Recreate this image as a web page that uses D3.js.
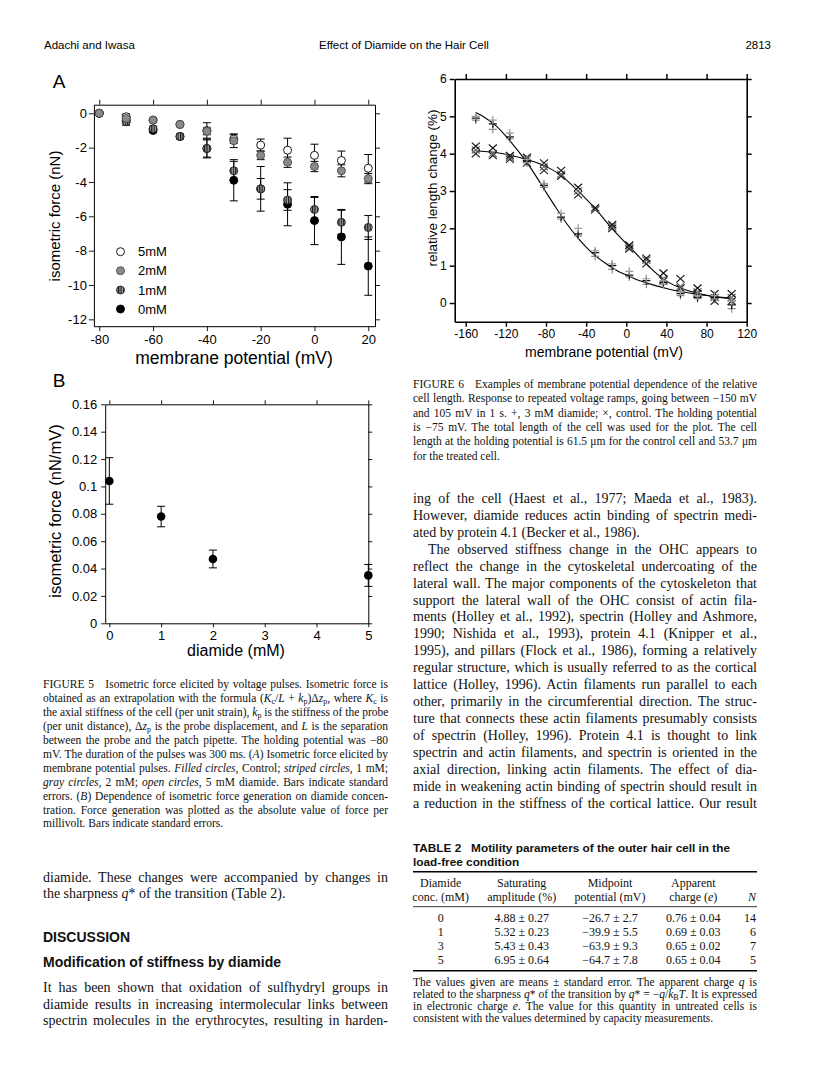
<!DOCTYPE html>
<html>
<head>
<meta charset="utf-8">
<script src="https://cdn.jsdelivr.net/npm/d3@7"></script>
<style>
  body { margin: 0; background: #fff; }
  #page { position: relative; width: 816px; height: 1090px; overflow: hidden; background: #fff; }
  svg { position: absolute; left: 0; top: 0; }
  .blk { position: absolute; font-family: "Liberation Serif", "Times New Roman", serif; color: #111; }
  .ln { text-align: justify; text-align-last: justify; white-space: nowrap; }
  .ln.last { text-align-last: left; }
  .sans { font-family: "Liberation Sans", Arial, sans-serif; }
  sub { font-size: 70%; vertical-align: -0.25em; line-height: 0; }
  .cell { position: absolute; font-family: "Liberation Serif", "Times New Roman", serif; color: #111; white-space: nowrap; }
</style>
</head>
<body>
<div id="page"></div>
<script>
/* ---------- data: Fig 5A, isometric force (nN) vs membrane potential (mV) ---------- */
const voltsA = [-80, -70, -60, -50, -40, -30, -20, -10, 0, 10, 20];
const force5mM = [0, -0.2, -0.4, -0.65, -1.0, -1.5, -1.85, -2.15, -2.45, -2.75, -3.2];
const err5mM   = [0, 0.15, 0.1, 0.1, 0.45, 0.25, 0.35, 0.7, 0.65, 0.55, 0.8];
const force2mM = [0, -0.3, -0.4, -0.65, -1.05, -1.6, -2.45, -2.85, -3.1, -3.35, -3.8];
const err2mM   = [0, 0.1, 0.1, 0.1, 0.2, 0.4, 0.25, 0.3, 0.3, 0.35, 0.3];
const force1mM = [0, -0.5, -0.9, -1.35, -2.05, -3.35, -4.4, -5.05, -5.6, -6.35, -6.65];
const err1mM   = [0, 0.2, 0.15, 0.15, 0.55, 0.55, 0.6, 0.6, 0.7, 0.7, 0.7];
const force0mM = [0, -0.4, -1.0, -1.35, -2.05, -3.9, -4.4, -5.3, -6.25, -7.2, -8.9];
const err0mM   = [0, 0.15, 0.1, 0.1, 0.5, 1.2, 1.3, 1.25, 1.4, 1.6, 1.7];
const legendA  = ["5mM", "2mM", "1mM", "0mM"];
const xTicksA = [-80, -60, -40, -20, 0, 20];
const yTicksA = [0, -2, -4, -6, -8, -10, -12];

/* ---------- data: Fig 5B, force per mV vs diamide ---------- */
const diamideB = [0, 1, 2, 5];
const slopeB   = [0.104, 0.078, 0.047, 0.035];
const slopeErrB = [0.017, 0.0075, 0.0065, 0.008];
const xTicksB = [0, 1, 2, 3, 4, 5];
const yTicksB = [0, 0.02, 0.04, 0.06, 0.08, 0.1, 0.12, 0.14, 0.16];

/* ---------- data: Fig 6, relative length change (%) ---------- */
const rampV = [-150, -133, -116, -99, -82, -65, -48, -31, -14, 3, 20, 37, 54, 71, 88, 105];
const diamideRun1 = [4.9, 4.65, 4.4, 3.75, 3.1, 2.25, 1.8, 1.25, 0.9, 0.7, 0.5, 0.5, 0.2, 0.12, 0.1, -0.15];
const diamideRun2 = [4.95, 4.8, 4.45, 3.8, 3.15, 2.3, 1.85, 1.35, 1.0, 0.75, 0.6, 0.55, 0.25, 0.15, 0.15, -0.05];
const diamideRun3 = [5.0, 4.9, 4.55, 3.85, 3.2, 2.4, 2.0, 1.4, 1.05, 0.85, 0.65, 0.6, 0.3, 0.2, 0.2, 0.05];
const controlRun1 = [4.0, 3.95, 3.85, 3.75, 3.55, 3.4, 2.9, 2.5, 2.0, 1.45, 1.05, 0.6, 0.4, 0.25, 0.05, 0.05];
const controlRun2 = [4.1, 4.0, 3.9, 3.85, 3.65, 3.45, 3.0, 2.5, 2.05, 1.5, 1.15, 0.65, 0.45, 0.3, 0.15, 0.15];
const controlRun3 = [4.2, 4.15, 3.95, 3.9, 3.75, 3.55, 3.1, 2.55, 2.1, 1.55, 1.2, 0.8, 0.65, 0.4, 0.25, 0.25];
const diamideFitV = [-150, -140, -130, -120, -110, -100, -90, -80, -70, -60, -50, -40, -30, -20, -10, 0, 10, 20, 30, 40, 50, 60, 70, 80, 90, 105];
const diamideFitY = [5.1, 4.95, 4.75, 4.47, 4.15, 3.8, 3.4, 2.97, 2.55, 2.15, 1.8, 1.5, 1.25, 1.05, 0.88, 0.75, 0.63, 0.54, 0.46, 0.39, 0.33, 0.28, 0.24, 0.2, 0.17, 0.13];
const controlFitV = [-150, -130, -115, -100, -82, -65, -50, -30, -15, 3, 20, 37, 54, 71, 88, 105];
const controlFitY = [4.07, 4.03, 3.95, 3.85, 3.68, 3.42, 3.05, 2.5, 2.02, 1.51, 1.04, 0.64, 0.4, 0.26, 0.17, 0.12];
const xTicks6 = [-160, -120, -80, -40, 0, 40, 80, 120];
const yTicks6 = [0, 1, 2, 3, 4, 5, 6];

/* ---------- data: Table 2 ---------- */
const tableHead1 = ["Diamide", "Saturating", "Midpoint", "Apparent", ""];
const tableHead2 = ["conc. (mM)", "amplitude (%)", "potential (mV)", "charge (<i>e</i>)", "<i>N</i>"];
const concCol  = ["0", "1", "3", "5"];
const ampCol   = ["4.88 ± 0.27", "5.32 ± 0.23", "5.43 ± 0.43", "6.95 ± 0.64"];
const midCol   = ["−26.7 ± 2.7", "−39.9 ± 5.5", "−63.9 ± 9.3", "−64.7 ± 7.8"];
const chargeCol = ["0.76 ± 0.04", "0.69 ± 0.03", "0.65 ± 0.02", "0.65 ± 0.04"];
const nCol     = ["14", "6", "7", "5"];

/* ---------- page setup ---------- */
const page = d3.select("#page");
const svg = page.append("svg").attr("width", 816).attr("height", 1090);
const SANS = "'Liberation Sans', Arial, sans-serif";

const defs = svg.append("defs");
const pat = defs.append("pattern").attr("id", "stripes")
  .attr("patternUnits", "userSpaceOnUse").attr("width", 2.4).attr("height", 4);
pat.append("rect").attr("width", 2.4).attr("height", 4).attr("fill", "#a0a0a0");
pat.append("rect").attr("width", 1.2).attr("height", 4).attr("fill", "#1a1a1a");

/* boxed axes: labels on left/bottom, bare ticks on top/right */
function boxAxes(x, y, xt, yt, o) {
  const g = svg.append("g");
  const [L, R] = x.range(), [B, T] = y.range();
  const style = (a) => {
    a.attr("font-family", SANS).attr("font-size", o.fs).attr("fill", "#000");
    a.selectAll("path.domain").attr("stroke", "#000").attr("stroke-width", o.sw);
    a.selectAll(".tick line").attr("stroke", "#000").attr("stroke-width", o.sw * 0.9);
    a.selectAll(".tick text").attr("fill", "#000");
  };
  g.append("g").attr("transform", `translate(0,${B})`)
    .call(d3.axisBottom(x).tickValues(xt).tickSize(o.tk).tickSizeOuter(0).tickPadding(o.xpad).tickFormat(o.xf || String)).call(style);
  g.append("g").attr("transform", `translate(0,${T})`)
    .call(d3.axisTop(x).tickValues(xt).tickSize(o.tk).tickSizeOuter(0).tickFormat("")).call(style);
  g.append("g").attr("transform", `translate(${L},0)`)
    .call(d3.axisLeft(y).tickValues(yt).tickSize(o.tk).tickSizeOuter(0).tickPadding(o.ypad).tickFormat(o.yf || String)).call(style);
  g.append("g").attr("transform", `translate(${R},0)`)
    .call(d3.axisRight(y).tickValues(yt).tickSize(o.tk).tickSizeOuter(0).tickFormat("")).call(style);
  return g;
}

function errBars(g, xs, ys, es, x, y, cap, sw) {
  const d = xs.map((v, i) => ({ x: v, y: ys[i], e: es[i] })).filter((d) => d.e > 0);
  const eg = g.append("g").attr("stroke", "#000").attr("stroke-width", sw).attr("fill", "none");
  eg.selectAll("line.v").data(d).join("line").attr("class", "v")
    .attr("x1", (d) => x(d.x)).attr("x2", (d) => x(d.x))
    .attr("y1", (d) => y(d.y + d.e)).attr("y2", (d) => y(d.y - d.e));
  eg.selectAll("line.t").data(d).join("line").attr("class", "t")
    .attr("x1", (d) => x(d.x) - cap).attr("x2", (d) => x(d.x) + cap)
    .attr("y1", (d) => y(d.y + d.e)).attr("y2", (d) => y(d.y + d.e));
  eg.selectAll("line.b").data(d).join("line").attr("class", "b")
    .attr("x1", (d) => x(d.x) - cap).attr("x2", (d) => x(d.x) + cap)
    .attr("y1", (d) => y(d.y - d.e)).attr("y2", (d) => y(d.y - d.e));
}

function label(txt, x, y, fs, opts = {}) {
  const t = svg.append("text").attr("x", x).attr("y", y)
    .attr("font-family", SANS).attr("font-size", fs)
    .attr("text-anchor", opts.anchor || "middle").attr("fill", "#000")
    .attr("font-weight", opts.bold ? "bold" : null).text(txt);
  if (opts.rot) t.attr("transform", `rotate(-90,${x},${y})`);
  return t;
}

/* ---------- Fig 5A ---------- */
const xA = d3.scaleLinear().domain([-82, 22.5]).range([93.9, 375]);
const yA = d3.scaleLinear().domain([-12.4, 0.5]).range([326.2, 104.7]);
boxAxes(xA, yA, xTicksA, yTicksA, { fs: 13, sw: 1, tk: 5, xpad: 4, ypad: 2 });
label("A", 59, 88, 19);
label("isometric force (nN)", 60, 216, 15, { rot: true });
label("membrane potential (mV)", 234, 364, 17.5);

const seriesA = [
  { f: force0mM, e: err0mM, fill: "#000", stroke: "#000" },
  { f: force1mM, e: err1mM, fill: "url(#stripes)", stroke: "#222" },
  { f: force5mM, e: err5mM, fill: "#fff", stroke: "#000" },
  { f: force2mM, e: err2mM, fill: "#8a8a8a", stroke: "#4a4a4a" },
];
const gA = svg.append("g");
seriesA.forEach((s) => errBars(gA, voltsA, s.f, s.e, xA, yA, 4, 1));
seriesA.forEach((s) => {
  gA.append("g").selectAll("circle").data(voltsA).join("circle")
    .attr("cx", (d) => xA(d)).attr("cy", (d, i) => yA(s.f[i])).attr("r", 4)
    .attr("fill", s.fill).attr("stroke", s.stroke).attr("stroke-width", 0.9);
});
// legend
const legStyles = [
  { fill: "#fff", stroke: "#000" },
  { fill: "#8a8a8a", stroke: "#4a4a4a" },
  { fill: "url(#stripes)", stroke: "#222" },
  { fill: "#000", stroke: "#000" },
];
const legY = [251.7, 270.7, 290, 309];
const leg = svg.append("g").selectAll("g").data(legendA).join("g")
  .attr("transform", (d, i) => `translate(120.5,${legY[i]})`);
leg.append("circle").attr("r", 4).attr("fill", (d, i) => legStyles[i].fill)
  .attr("stroke", (d, i) => legStyles[i].stroke).attr("stroke-width", 0.9);
leg.append("text").attr("x", 17.5).attr("y", 4.6).attr("font-family", SANS)
  .attr("font-size", 13).attr("fill", "#000").text((d) => d);

/* ---------- Fig 5B ---------- */
const xB = d3.scaleLinear().domain([-0.08, 5]).range([105.2, 368.3]);
const yB = d3.scaleLinear().domain([0, 0.16]).range([623.3, 404.3]);
boxAxes(xB, yB, xTicksB, yTicksB, { fs: 13, sw: 1, tk: 4, xpad: 3, ypad: 4 });
label("B", 59, 387, 19);
label("isometric force (nN/mV)", 61, 511, 16.5, { rot: true });
label("diamide (mM)", 236, 656, 16);
const gB = svg.append("g");
errBars(gB, diamideB, slopeB, slopeErrB, xB, yB, 4, 1);
gB.selectAll("circle").data(diamideB).join("circle")
  .attr("cx", (d) => xB(d)).attr("cy", (d, i) => yB(slopeB[i])).attr("r", 4.3).attr("fill", "#000");

/* ---------- Fig 6 ---------- */
const x6 = d3.scaleLinear().domain([-171, 120]).range([454.7, 746.7]);
const y6 = d3.scaleLinear().domain([-0.5, 6]).range([321.7, 79]);
boxAxes(x6, y6, xTicks6, yTicks6, { fs: 12, sw: 1.6, tk: 5, xpad: 3, ypad: 3 });
label("relative  length  change (%)", 437, 188, 13.5, { rot: true });
label("membrane potential  (mV)", 604, 357, 14);

const line6 = d3.line().curve(d3.curveMonotoneX).x((d) => x6(d[0])).y((d) => y6(d[1]));
const g6 = svg.append("g");
g6.append("path").datum(diamideFitV.map((v, i) => [v, diamideFitY[i]]))
  .attr("d", line6).attr("fill", "none").attr("stroke", "#000").attr("stroke-width", 1.1);
g6.append("path").datum(controlFitV.map((v, i) => [v, controlFitY[i]]))
  .attr("d", line6).attr("fill", "none").attr("stroke", "#000").attr("stroke-width", 1.1);

const plus = "M-4,0H4M0,-4V4";
const cross = "M-4,-3.6L4,3.6M-4,3.6L4,-3.6";
const runs6 = [
  { ys: controlRun1, sym: cross, col: "#222" },
  { ys: controlRun2, sym: cross, col: "#666" },
  { ys: controlRun3, sym: cross, col: "#111" },
  { ys: diamideRun1, sym: plus, col: "#8c8c8c" },
  { ys: diamideRun2, sym: plus, col: "#111" },
  { ys: diamideRun3, sym: plus, col: "#9a9a9a" },
];
runs6.forEach((r) => {
  g6.append("g").selectAll("path").data(rampV).join("path")
    .attr("transform", (d, i) => `translate(${x6(d)},${y6(r.ys[i])})`)
    .attr("d", r.sym).attr("fill", "none").attr("stroke", r.col).attr("stroke-width", 1.2);
});

/* ---------- running head ---------- */
label("Adachi and Iwasa", 44, 49, 11.5, { anchor: "start" });
label("Effect of Diamide on the Hair Cell", 319, 49, 11.5, { anchor: "start" });
label("2813", 771, 49, 11.5, { anchor: "end" });

/* ---------- text blocks ---------- */
const J = (t) => ({ t }), E = (t) => ({ t, last: true }), I = (t) => ({ t, indent: 15 });

function textBlock(lines, o) {
  const blk = page.append("div").attr("class", "blk" + (o.sans ? " sans" : ""))
    .style("left", o.x + "px").style("top", o.center - o.lh / 2 + "px")
    .style("width", o.w + "px").style("font-size", o.fs + "px")
    .style("line-height", o.lh + "px").style("font-weight", o.bold ? "bold" : null);
  blk.selectAll("div").data(lines).join("div")
    .attr("class", (d) => "ln" + (d.last ? " last" : ""))
    .style("text-indent", (d) => (d.indent ? d.indent + "px" : null))
    .html((d) => d.t);
}

const fig5Caption = [
  J("FIGURE 5&nbsp;&nbsp; Isometric force elicited by voltage pulses. Isometric force is"),
  J("obtained as an extrapolation with the formula (<i>K</i><sub>c</sub>/<i>L</i> + <i>k</i><sub>p</sub>)Δ<i>z</i><sub>p</sub>, where <i>K</i><sub>c</sub> is"),
  J("the axial stiffness of the cell (per unit strain), <i>k</i><sub>p</sub> is the stiffness of the probe"),
  J("(per unit distance), Δ<i>z</i><sub>p</sub> is the probe displacement, and <i>L</i> is the separation"),
  J("between the probe and the patch pipette. The holding potential was −80"),
  J("mV. The duration of the pulses was 300 ms. (<i>A</i>) Isometric force elicited by"),
  J("membrane potential pulses. <i>Filled circles</i>, Control; <i>striped circles</i>, 1 mM;"),
  J("<i>gray circles</i>, 2 mM; <i>open circles</i>, 5 mM diamide. Bars indicate standard"),
  J("errors. (<i>B</i>) Dependence of isometric force generation on diamide concen-"),
  J("tration. Force generation was plotted as the absolute value of force per"),
  E("millivolt. Bars indicate standard errors."),
];
textBlock(fig5Caption, { x: 43, w: 345, center: 685.3, lh: 13.9, fs: 11.5 });

textBlock([
  J("diamide. These changes were accompanied by changes in"),
  E("the sharpness <i>q</i>* of the transition (Table 2)."),
], { x: 43, w: 345, center: 878, lh: 16.7, fs: 14 });
textBlock([E("DISCUSSION")], { x: 43, w: 345, center: 936.7, lh: 16, fs: 14, sans: true, bold: true });
textBlock([E("Modification of stiffness by diamide")], { x: 43, w: 345, center: 962, lh: 16, fs: 14, sans: true, bold: true });
textBlock([
  J("It has been shown that oxidation of sulfhydryl groups in"),
  J("diamide results in increasing intermolecular links between"),
  J("spectrin molecules in the erythrocytes, resulting in harden-"),
], { x: 43, w: 345, center: 988.3, lh: 16.7, fs: 14 });

const fig6Caption = [
  J("FIGURE 6&nbsp;&nbsp; Examples of membrane potential dependence of the relative"),
  J("cell length. Response to repeated voltage ramps, going between −150 mV"),
  J("and 105 mV in 1 s. +, 3 mM diamide; ×, control. The holding potential"),
  J("is −75 mV. The total length of the cell was used for the plot. The cell"),
  J("length at the holding potential is 61.5 μm for the control cell and 53.7 μm"),
  E("for the treated cell."),
];
textBlock(fig6Caption, { x: 413, w: 344, center: 384.3, lh: 14.3, fs: 11.5 });

textBlock([
  J("ing of the cell (Haest et al., 1977; Maeda et al., 1983)."),
  J("However, diamide reduces actin binding of spectrin medi-"),
  E("ated by protein 4.1 (Becker et al., 1986)."),
  I("The observed stiffness change in the OHC appears to"),
  J("reflect the change in the cytoskeletal undercoating of the"),
  J("lateral wall. The major components of the cytoskeleton that"),
  J("support the lateral wall of the OHC consist of actin fila-"),
  J("ments (Holley et al., 1992), spectrin (Holley and Ashmore,"),
  J("1990; Nishida et al., 1993), protein 4.1 (Knipper et al.,"),
  J("1995), and pillars (Flock et al., 1986), forming a relatively"),
  J("regular structure, which is usually referred to as the cortical"),
  J("lattice (Holley, 1996). Actin filaments run parallel to each"),
  J("other, primarily in the circumferential direction. The struc-"),
  J("ture that connects these actin filaments presumably consists"),
  J("of spectrin (Holley, 1996). Protein 4.1 is thought to link"),
  J("spectrin and actin filaments, and spectrin is oriented in the"),
  J("axial direction, linking actin filaments. The effect of dia-"),
  J("mide in weakening actin binding of spectrin should result in"),
  J("a reduction in the stiffness of the cortical lattice. Our result"),
], { x: 413, w: 344, center: 499.3, lh: 16.95, fs: 14 });

/* ---------- Table 2 ---------- */
textBlock([
  E("TABLE 2&nbsp;&nbsp; Motility parameters of the outer hair cell in the"),
  E("load-free condition"),
], { x: 413, w: 344, center: 847.7, lh: 14, fs: 11.8, sans: true, bold: true });

const rules = [{ y: 871.7, w: 1.6 }, { y: 906.7, w: 0.8 }, { y: 970.7, w: 1.6 }];
svg.append("g").selectAll("line").data(rules).join("line")
  .attr("x1", 413).attr("x2", 757).attr("y1", (d) => d.y).attr("y2", (d) => d.y)
  .attr("stroke", "#000").attr("stroke-width", (d) => d.w);

const colX = [440.7, 521.7, 610, 693.3, 756];
function cell(html, cx, cy, right) {
  page.append("div").attr("class", "cell")
    .style("left", right ? null : cx + "px").style("right", right ? 816 - cx + "px" : null)
    .style("top", cy - 7 + "px").style("line-height", "14px").style("font-size", "12px")
    .style("transform", right ? null : "translateX(-50%)").html(html);
}
tableHead1.forEach((h, i) => cell(h, colX[i], 882.7, i === 4));
tableHead2.forEach((h, i) => cell(h, colX[i], 896.7, i === 4));
const rowY = [918.3, 932.3, 945.9, 960];
[concCol, ampCol, midCol, chargeCol, nCol].forEach((col, c) =>
  col.forEach((v, r) => cell(v, colX[c], rowY[r], c === 4)));

textBlock([
  J("The values given are means ± standard error. The apparent charge <i>q</i> is"),
  J("related to the sharpness <i>q</i>* of the transition by <i>q</i>* = −<i>q</i>/<i>k</i><sub>B</sub><i>T</i>. It is expressed"),
  J("in electronic charge <i>e</i>. The value for this quantity in untreated cells is"),
  E("consistent with the values determined by capacity measurements."),
], { x: 413, w: 344, center: 982, lh: 12, fs: 11.5 });
</script>
</body>
</html>
